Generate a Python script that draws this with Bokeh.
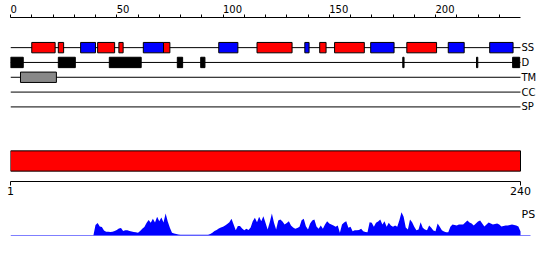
from bokeh.plotting import figure
from bokeh.layouts import column
from bokeh.models import (Range1d, LinearAxis, FixedTicker, ColumnDataSource,
                          LabelSet, Label)
from bokeh.core.properties import value
from bokeh.embed import file_html
from bokeh.resources import INLINE

# ---------------- data ----------------
seq_start = 0
seq_length = 240
top_ticks = [0, 50, 100, 150, 200]
top_minor_ticks = [10, 20, 30, 40, 60, 70, 80, 90, 110, 120, 130, 140,
                   160, 170, 180, 190, 210, 220, 230]
bottom_ticks = [1, 240]
track_names = ["SS", "D", "TM", "CC", "SP"]

# secondary structure (H = helix, red; E = strand, blue)
ss_start = [10, 22.5, 33, 41, 51, 62.5, 72, 98, 116, 138.5, 145.5, 152.5, 169.5, 186.5, 206, 225.5]
ss_end = [21, 25, 40, 49, 53, 72, 75, 107, 132.5, 140.5, 148.5, 166.5, 180.5, 200.5, 213.5, 236.5]
ss_type = ["H", "H", "E", "H", "H", "E", "H", "E", "H", "E", "H", "H", "E", "H", "E", "E"]

# disorder
d_start = [0, 22.5, 46.5, 78.5, 89.5, 184.6, 219.3, 236.3]
d_end = [6, 30.5, 61.5, 81, 91.5, 185.2, 219.9, 239.6]

# transmembrane
tm_start = [4.7]
tm_end = [21.6]

# domain bar (residue numbering 1..240)
dom_start = [1]
dom_end = [240]

# PS score per residue 1..240
ps_values = [
    0, 0, 0, 0, 0, 0, 0, 0, 0, 0, 0, 0, 0, 0, 0, 0, 0, 0, 0, 0,
    0, 0, 0, 0, 0, 0, 0, 0, 0, 0, 0, 0, 0, 0, 0, 0, 0, 0, 0,
    10.5, 12.5, 9, 8.5, 5, 3.8, 3.7, 3.6, 3.7, 4.5,
    5.5, 7, 7.5, 4.5, 5.2, 5.3, 4.5, 4, 3.5, 3.2,
    2.7, 4.5, 6.7, 8.5, 12.5, 15.5, 12.7, 16.7, 13, 18.7,
    14.3, 18, 13, 22, 14, 7.7, 2.7, 2, 1.5, 1,
    0.7, 0.7, 0.7, 0.7, 0.7, 0.7, 0.7, 0.7, 0.7, 0.7, 0.7, 0.7, 0.7, 0.7,
    1.5, 2.7, 4.5, 5.5, 7, 8, 8.7, 10, 11.5, 13.3,
    16.7, 11, 5.3, 9.5, 9.5, 7, 5.3, 6.7, 5.5, 8,
    14.3, 17.7, 13.3, 18.7, 14.3, 19.3, 12.7, 6, 13.3, 22,
    12.7, 6, 15, 16, 14, 11, 12.5, 14.3, 10, 8,
    6.7, 7.5, 8.7, 15.3, 16.7, 9.3, 6, 12, 15, 16,
    9, 6.7, 10, 6.7, 11, 14.3, 12, 11, 10, 8.7,
    10, 2.7, 11, 13, 14.3, 7.7, 8.7, 4.3, 5.3, 5.3,
    5.5, 6.7, 4.3, 3.5, 3.3, 13.3, 12.7, 8.7, 12.7, 14,
    16, 11, 14.3, 8.7, 12.7, 10, 8.7, 10, 8.7, 15.3,
    23.3, 18.7, 8, 6, 16, 13.3, 8.7, 5.3, 6, 13.3,
    7.7, 6, 5.3, 10, 7.7, 5, 4.3, 12, 8.7, 5.3,
    4, 3.3, 3.3, 8.7, 11, 10.5, 10, 11, 11, 11,
    13, 15, 13, 12, 10, 12, 14, 15, 12, 9,
    11, 13, 12, 11, 11.5, 12, 11, 9, 9.5, 10,
    10, 10.5, 11, 10.5, 10, 9, 4,
]
ps_residues = list(range(1, seq_length + 1))

# ---------------- styling / layout ----------------
FONT = "DejaVu Sans"
RED = "#ff0000"
BLUE = "#0000ff"
GREY = "#888888"
row_y = {"SS": 45.5, "D": 60.5, "TM": 75.5, "CC": 90.5, "SP": 105.5}
half_box = 5.25
ss_colors = {"H": RED, "E": BLUE}
# frame spans x = 10..550 px; the sequence (0..240) occupies 10..520 px
x_view_end = seq_length * 540 / 510
seq_view_end = dom_start[0] + (dom_end[0] - dom_start[0]) * 540 / 510
ps_base_end = seq_length * 520 / 510

p = figure(width=550, height=200,
           x_range=Range1d(seq_start, x_view_end), y_range=Range1d(181, 15),
           x_axis_location="above", y_axis_location=None,
           toolbar_location=None, output_backend="svg",
           min_border_left=10, min_border_right=0,
           min_border_top=15, min_border_bottom=19)
p.outline_line_color = None
p.grid.visible = False

# labels sit to the right of their tick, as in the reference
FS = "\u2007"
ax = p.xaxis[0]
ax.ticker = FixedTicker(ticks=top_ticks, minor_ticks=top_minor_ticks)
ax.bounds = (seq_start, seq_length)
ax.major_label_overrides = {t: FS * len(str(t)) + str(t) for t in top_ticks}
ax.major_tick_in = 0
ax.major_tick_out = 3
ax.minor_tick_in = 0
ax.minor_tick_out = 3
ax.major_label_standoff = 0
ax.major_label_text_font = FONT
ax.major_label_text_font_size = "10px"
ax.major_label_text_color = "black"
ax.axis_line_color = "black"
ax.major_tick_line_color = "black"
ax.minor_tick_line_color = "black"

p.extra_x_ranges = {"seq": Range1d(dom_start[0], seq_view_end)}
bax = LinearAxis(x_range_name="seq",
                 ticker=FixedTicker(ticks=bottom_ticks, minor_ticks=[]),
                 bounds=(dom_start[0], dom_end[0]),
                 major_tick_in=0, major_tick_out=4,
                 minor_tick_in=0, minor_tick_out=0,
                 major_label_standoff=1,
                 major_label_text_font=FONT,
                 major_label_text_font_size="11px",
                 major_label_text_color="black",
                 axis_line_color="black", major_tick_line_color="black")
p.add_layout(bax, "below")

# track lines
ys = [row_y[n] for n in track_names]
p.segment(x0=[seq_start] * len(ys), x1=[seq_length] * len(ys), y0=ys, y1=ys,
          line_color="black", line_width=1)

# SS boxes
y_ss = row_y["SS"]
p.quad(left=ss_start, right=ss_end,
       top=[y_ss - half_box] * len(ss_start), bottom=[y_ss + half_box] * len(ss_start),
       fill_color=[ss_colors[t] for t in ss_type], line_color="black", line_width=1)

# disorder boxes
y_d = row_y["D"]
p.quad(left=d_start, right=d_end,
       top=[y_d - half_box] * len(d_start), bottom=[y_d + half_box] * len(d_start),
       fill_color="black", line_color="black", line_width=1)

# TM boxes
y_tm = row_y["TM"]
p.quad(left=tm_start, right=tm_end,
       top=[y_tm - half_box] * len(tm_start), bottom=[y_tm + half_box] * len(tm_start),
       fill_color=GREY, line_color="black", line_width=1)

# domain bar
p.quad(left=dom_start, right=dom_end, top=[150], bottom=[170.5],
       x_range_name="seq", fill_color=RED, line_color="black", line_width=1)

# track labels
lab_src = ColumnDataSource(dict(x=[seq_length] * len(track_names), y=ys, name=track_names))
p.add_layout(LabelSet(x="x", y="y", text="name", source=lab_src, x_offset=1,
                      text_baseline="middle", text_align="left",
                      text_font=value(FONT), text_font_size=value("10px"),
                      text_color="black"))

# PS plot
p2 = figure(width=550, height=60,
            x_range=Range1d(seq_start, x_view_end), y_range=Range1d(0, 35),
            x_axis_location=None, y_axis_location=None,
            toolbar_location=None, output_backend="svg",
            min_border_left=10, min_border_right=0,
            min_border_top=0, min_border_bottom=25)
p2.outline_line_color = None
p2.grid.visible = False
p2.varea(x=ps_residues, y1=[0] * len(ps_residues), y2=ps_values, fill_color=BLUE)
p2.segment(x0=[seq_start], x1=[ps_base_end], y0=[0], y1=[0], line_color=BLUE, line_width=1)
p2.add_layout(Label(x=seq_length, y=21, text="PS", x_offset=1,
                    text_baseline="alphabetic", text_align="left",
                    text_font=FONT, text_font_size="11px", text_color="black"))

layout = column(p, p2, spacing=0)
open("out.html", "w").write(file_html(layout, INLINE))
